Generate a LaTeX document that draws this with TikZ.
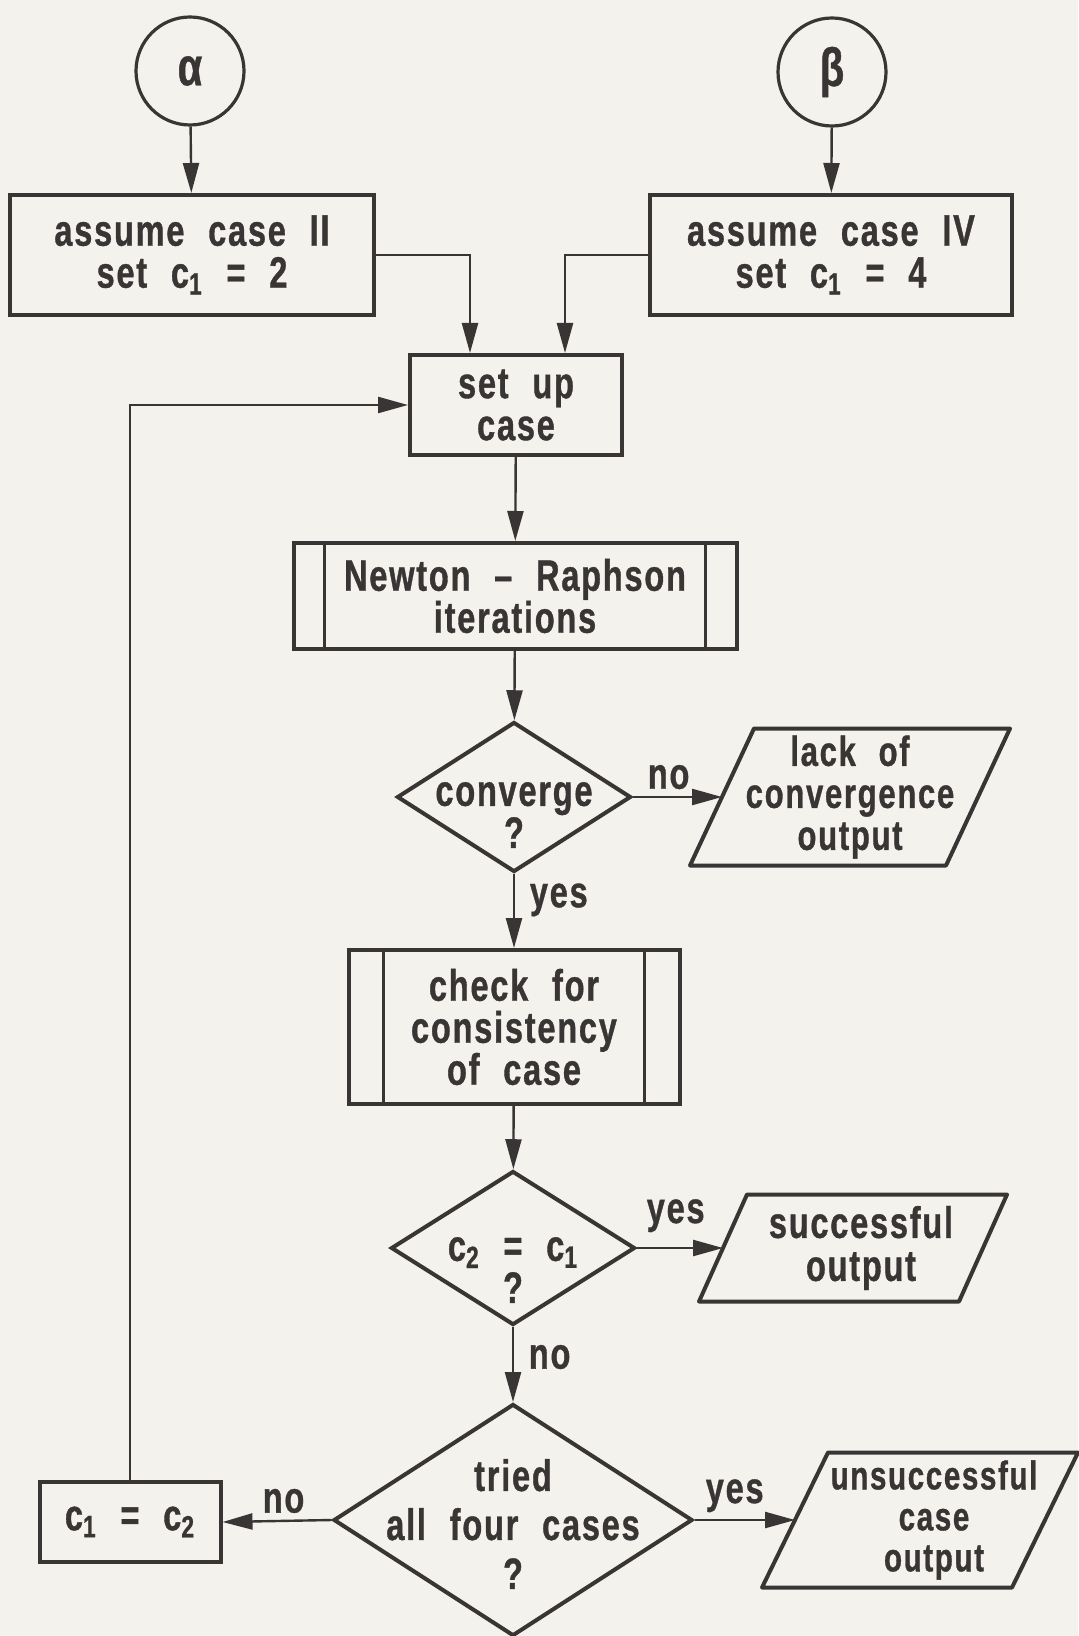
\documentclass[tikz,border=0pt]{standalone}
\usepackage{fontspec}
\setmainfont{Liberation Sans}[FakeStretch=0.74, LetterSpace=4, WordSpace=2.2, BoldFeatures={FakeBold=0.8}]
\usetikzlibrary{shapes.geometric,arrows.meta}
\definecolor{paper}{RGB}{243,242,236}
\definecolor{ink}{RGB}{58,53,53}
% slanted input/output box round a named body node
\newcommand\leanbox[2]{%
  \draw[ink, line width=2pt, line join=round]
    ([xshift=-#2]#1.south west) -- ([xshift=#2]#1.north west) --
    ([xshift=#2]#1.north east) -- ([xshift=-#2]#1.south east) -- cycle;}
\begin{document}
\begin{tikzpicture}[x=0.5pt,y=-0.5pt,
    every node/.style={font=\bfseries\fontsize{22}{21}\selectfont, text=ink, align=center},
    conn/.style={circle, draw=ink, line width=1.6pt, minimum size=54pt, inner sep=0pt,
      font=\bfseries\fontsize{27}{27}\selectfont},
    proc/.style={rectangle, draw=ink, line width=2pt, inner sep=0pt},
    subproc/.style={proc, path picture={
        \draw[ink, line width=1.6pt]
          ([xshift=#1]path picture bounding box.north west) -- ([xshift=#1]path picture bounding box.south west)
          ([xshift=-#1]path picture bounding box.north east) -- ([xshift=-#1]path picture bounding box.south east);}},
    subproc/.default=15.5pt,
    decide/.style={diamond, draw=ink, line width=2pt, inner sep=0pt},
    io/.style={rectangle, inner sep=0pt, outer sep=0pt},
    ar/.style={draw=ink, line width=1.2pt, -{Triangle[length=15pt,width=8pt]}}
  ]
  \useasboundingbox (0,0) rectangle (1078,1636);
  \fill[paper] (0,0) rectangle (1078,1636);

  \node[conn] (alpha) at (190,71) {α};
  \node[conn] (beta) at (832,72) {β};
  \node[proc, minimum width=182pt, minimum height=60pt] (caseII) at (192,255)
    {assume case II\\set c\textsubscript{1} = 2};
  \node[proc, minimum width=181pt, minimum height=60pt] (caseIV) at (831,255)
    {assume case IV\\set c\textsubscript{1} = 4};
  \node[proc, minimum width=106pt, minimum height=50pt] (setup) at (516,405) {set up\\case};
  \node[subproc, minimum width=221.5pt, minimum height=53pt] (newton) at (515,596)
    {Newton -- Raphson\\iterations};
  \node[decide, minimum width=117pt, minimum height=75pt,
    label={[yshift=-9pt, font=\bfseries\fontsize{22}{20}\selectfont]center:converge\\?}] (conv) at (514,797) {};
  \node[io, minimum width=128pt, minimum height=68.5pt,
    font=\bfseries\fontsize{21}{21}\selectfont] (lack) at (850,797) {lack of\\convergence\\output};
  \node[subproc=17.5pt, minimum width=165.5pt, minimum height=77pt] (check) at (514,1027)
    {check for\\consistency\\of case};
  \node[decide, minimum width=122pt, minimum height=77pt,
    label={[yshift=-11pt]center:c\textsubscript{2} = c\textsubscript{1}\\?}] (same) at (513,1248) {};
  \node[io, minimum width=130pt, minimum height=53.5pt,
    label={[xshift=4pt, font=\bfseries\fontsize{22}{21.5}\selectfont]center:successful\\output}] (success) at (853,1248) {};
  \node[decide, minimum width=179.5pt, minimum height=116pt,
    label={[yshift=-2pt, font=\bfseries\fontsize{22}{24.5}\selectfont]center:tried\\all four cases\\?}] (tried) at (513,1520) {};
  \node[proc, minimum width=90.5pt, minimum height=40pt] (reset) at (130,1522)
    {c\textsubscript{1} = c\textsubscript{2}};
  \node[io, minimum width=125pt, minimum height=67.5pt,
    label={[xshift=7pt, font=\bfseries\fontsize{20}{20.5}\selectfont]center:unsuccessful\\case\\output}] (fail) at (920,1520) {};
  \leanbox{lack}{16pt}
  \leanbox{success}{12pt}
  \leanbox{fail}{16.5pt}

  \begin{scope}[ar]
    \draw (alpha) -- (caseII);
    \draw (beta) -- (caseIV);
    \draw (caseII.east) -| ([xshift=-23pt]setup.north);
    \draw (caseIV.west) -| ([xshift=24.5pt]setup.north);
    \draw (setup) -- (newton);
    \draw (newton) -- (conv);
    \draw (conv.east) -- node[above, pos=0.4] {no} (lack.west);
    \draw (conv.south) -- node[right, pos=0.35, xshift=4pt] {yes} (check.north);
    \draw (check) -- (same);
    \draw (same.east) -- node[above, pos=0.45, yshift=4pt] {yes} (success.west);
    \draw (same.south) -- node[right, pos=0.4, xshift=4pt] {no} (tried.north);
    \draw (tried.east) -- node[above, pos=0.4] {yes} (fail.west);
    \draw (tried.west) -- node[above, pos=0.44] {no} (reset.east);
    \draw (reset.north) |- (setup.west);
  \end{scope}
\end{tikzpicture}
\end{document}
